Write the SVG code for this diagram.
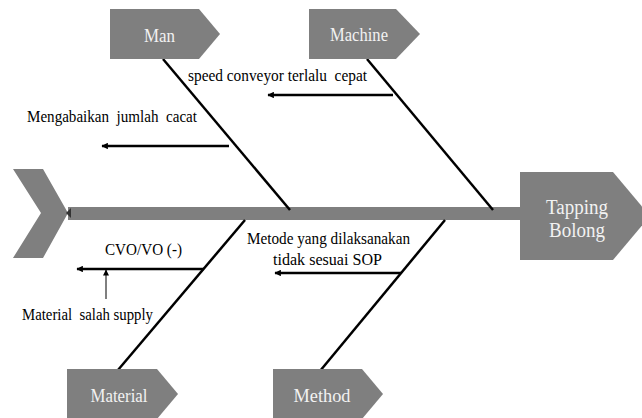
<svg xmlns="http://www.w3.org/2000/svg" width="642" height="418" viewBox="0 0 642 418">
<style>
.box{fill:#7f7f7f}
.lbl{font-family:'Liberation Serif','Times New Roman',serif;fill:#f2f2f2;text-anchor:middle}
.cause{font-family:'Liberation Serif','Times New Roman',serif;fill:#000;font-size:16.5px}
.bone{stroke:#000;stroke-width:2.5;fill:none}
.sub{stroke:#000;stroke-width:2.5;fill:none;marker-end:url(#ah)}
.thin{stroke:#000;stroke-width:1;fill:none;marker-end:url(#ahs)}
</style>
<defs>
<marker id="ah" viewBox="0 0 10 10" refX="9" refY="5" markerWidth="3.4" markerHeight="2.6" orient="auto" markerUnits="strokeWidth">
<path d="M0,0 L10,5 L0,10 z" fill="#000"/>
</marker>
<marker id="ahs" viewBox="0 0 10 10" refX="9" refY="5" markerWidth="7" markerHeight="6" orient="auto" markerUnits="strokeWidth">
<path d="M0,0 L10,5 L0,10 z" fill="#000"/>
</marker>
</defs>
<rect width="642" height="418" fill="#fff"/>

<g id="tail">
<polygon class="box" points="13,169 43,169 68,213 43,258 13,258 41,213"/>
</g>
<g id="spine">
<rect class="box" x="68" y="207" width="452" height="13"/>
<polygon points="66,213 71,208 71,218" fill="#333"/>
</g>

<g id="connectors">
<line class="bone" x1="163" y1="59" x2="290" y2="210"/>
<line class="bone" x1="367" y1="59" x2="493" y2="210"/>
<line class="bone" x1="245" y1="220" x2="118" y2="370"/>
<line class="bone" x1="445" y1="220" x2="320" y2="371"/>
<line class="sub" x1="393" y1="95" x2="268" y2="95"/>
<line class="sub" x1="229" y1="146" x2="102" y2="146"/>
<line class="sub" x1="204" y1="269" x2="77" y2="269"/>
<line class="sub" x1="401" y1="273" x2="275" y2="273"/>
<line class="thin" x1="106" y1="299" x2="106" y2="270"/>
</g>

<g id="man">
<polygon class="box" points="110,9 199,9 220,34 199,59 110,59"/>
<text class="lbl" x="159.5" y="42" font-size="18.5" textLength="31" lengthAdjust="spacingAndGlyphs">Man</text>
</g>
<g id="machine">
<polygon class="box" points="309,9 396,9 420,34 396,59 309,59"/>
<text class="lbl" x="359" y="41" font-size="18.5" textLength="58" lengthAdjust="spacingAndGlyphs">Machine</text>
</g>
<g id="material">
<polygon class="box" points="67,369 157,369 178,394 157,419 67,419"/>
<text class="lbl" x="119" y="402" font-size="18.5" textLength="57" lengthAdjust="spacingAndGlyphs">Material</text>
</g>
<g id="method">
<polygon class="box" points="273,369 362,369 383,394 362,419 273,419"/>
<text class="lbl" x="322" y="402" font-size="18.5" textLength="57" lengthAdjust="spacingAndGlyphs">Method</text>
</g>
<g id="tapping-bolong">
<polygon class="box" points="520,172 613,172 650,216 613,260 520,260"/>
<text class="lbl" x="577" y="214" font-size="20" textLength="62" lengthAdjust="spacingAndGlyphs">Tapping</text>
<text class="lbl" x="577" y="237" font-size="20" textLength="56" lengthAdjust="spacingAndGlyphs">Bolong</text>
</g>

<g id="cause-speed">
<text class="cause" x="188" y="81" textLength="179" lengthAdjust="spacingAndGlyphs" xml:space="preserve">speed conveyor terlalu  cepat</text>
</g>
<g id="cause-mengabaikan">
<text class="cause" x="27" y="122" textLength="170" lengthAdjust="spacingAndGlyphs" xml:space="preserve">Mengabaikan  jumlah  cacat</text>
</g>
<g id="cause-cvo">
<text class="cause" x="105" y="255" textLength="77" lengthAdjust="spacingAndGlyphs">CVO/VO (-)</text>
</g>
<g id="cause-material-salah">
<text class="cause" x="22" y="320" textLength="131" lengthAdjust="spacingAndGlyphs" xml:space="preserve">Material  salah supply</text>
</g>
<g id="cause-metode">
<text class="cause" x="247" y="244" textLength="163" lengthAdjust="spacingAndGlyphs">Metode yang dilaksanakan</text>
<text class="cause" x="273" y="265" textLength="109" lengthAdjust="spacingAndGlyphs">tidak sesuai SOP</text>
</g>
</svg>
